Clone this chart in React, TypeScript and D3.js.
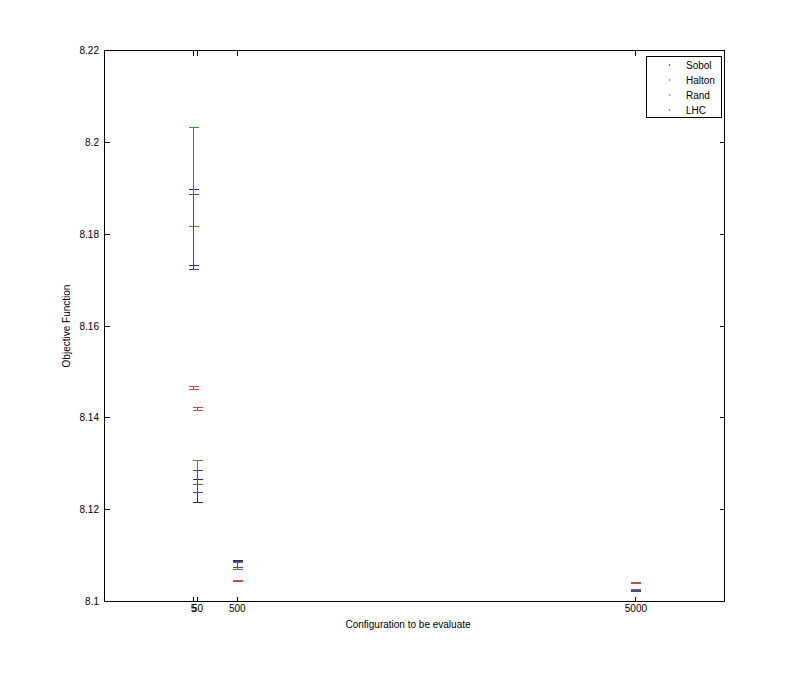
import React from "react";
import * as d3 from "d3";

const configs = [5, 50, 500, 5000];
const seriesNames = ["Sobol", "Halton", "Rand", "LHC"];
const seriesColors = ["#1c2a8c", "#c24a48", "#3f8f2f", "#5e3a96"];
const sobolLow = [8.1732, 8.1215, 8.1073, 8.1022];
const sobolHigh = [8.1898, 8.1265, 8.109, 8.1027];
const haltonLow = [8.1461, 8.1416, 8.1043, 8.104];
const haltonHigh = [8.1468, 8.1422, 8.1045, 8.1042];
const randLow = [8.1817, 8.1254, 8.1069, 8.1023];
const randHigh = [8.2033, 8.1308, 8.1086, 8.1026];
const lhcLow = [8.1723, 8.1237, 8.1075, 8.1021];
const lhcHigh = [8.1887, 8.1286, 8.1088, 8.1025];
const yTicks = [8.1, 8.12, 8.14, 8.16, 8.18, 8.2, 8.22];
const xTicks = [5, 50, 500, 5000];

const lows = [sobolLow, haltonLow, randLow, lhcLow];
const highs = [sobolHigh, haltonHigh, randHigh, lhcHigh];

export default function App() {
  const W = 800, H = 675;
  const left = 104.5, right = 724.5, top = 50.5, bottom = 601.5;
  const x = d3.scaleLinear().domain([-1000, 6000]).range([left, right]);
  const y = d3.scaleLinear().domain([8.1, 8.22]).range([bottom, top]);
  const px = (v: number) => Math.round(v) + 0.5;
  const font = "'Liberation Sans', Arial, sans-serif";
  const fs = 10;
  const tl = 5;
  const cap = 5;
  const fmt = (v: number) => String(+v.toFixed(2));

  return (
    <div style={{ position: "absolute", left: 0, top: 0 }}>
      <svg width={W} height={H} style={{ display: "block", background: "#fff" }}>
        <rect x={0} y={0} width={W} height={H} fill="#fff" />
        {seriesNames.map((s, si) => (
          <g key={s} stroke={seriesColors[si]} strokeWidth={1} fill="none" shapeRendering="crispEdges">
            {configs.map((c, i) => {
              const cx = px(x(c) - 0.5);
              const y1 = px(y(lows[si][i]) - 0.5);
              const y2 = px(y(highs[si][i]) - 0.5);
              return (
                <g key={i}>
                  <line x1={cx} x2={cx} y1={y1} y2={y2} />
                  <line x1={cx - cap} x2={cx + cap} y1={y1} y2={y1} />
                  <line x1={cx - cap} x2={cx + cap} y1={y2} y2={y2} />
                </g>
              );
            })}
          </g>
        ))}
        <rect x={left} y={top} width={right - left} height={bottom - top} fill="none" stroke="#000" strokeWidth={1} shapeRendering="crispEdges" />
        {yTicks.map((t) => (
          <g key={t} shapeRendering="crispEdges">
            <line x1={left} x2={left + tl} y1={px(y(t) - 0.5)} y2={px(y(t) - 0.5)} stroke="#000" />
            <line x1={right - tl} x2={right} y1={px(y(t) - 0.5)} y2={px(y(t) - 0.5)} stroke="#000" />
            <text x={99} y={y(t)} dy="0.35em" textAnchor="end" fontFamily={font} fontSize={fs} fill="#000">
              {fmt(t)}
            </text>
          </g>
        ))}
        {xTicks.map((t) => (
          <g key={t} shapeRendering="crispEdges">
            <line x1={px(x(t) - 0.5)} x2={px(x(t) - 0.5)} y1={bottom} y2={bottom - tl} stroke="#000" />
            <line x1={px(x(t) - 0.5)} x2={px(x(t) - 0.5)} y1={top} y2={top + tl} stroke="#000" />
            <text x={x(t)} y={612} textAnchor="middle" fontFamily={font} fontSize={fs} fill="#000">
              {t}
            </text>
          </g>
        ))}
        <text x={408} y={628} textAnchor="middle" fontFamily={font} fontSize={fs} fill="#000">
          Configuration to be evaluate
        </text>
        <text
          transform={`translate(70, ${(top + bottom) / 2}) rotate(-90)`}
          textAnchor="middle"
          fontFamily={font}
          fontSize={fs}
          fill="#000"
        >
          Objective Function
        </text>
        <rect x={646.5} y={56.5} width={75} height={61} fill="#fff" stroke="#000" strokeWidth={1} shapeRendering="crispEdges" />
        {seriesNames.map((s, si) => (
          <g key={s}>
            <circle cx={669.5} cy={65 + si * 15} r={0.8} fill={seriesColors[si]} />
            <text x={686} y={65 + si * 15} dy="0.35em" fontFamily={font} fontSize={fs} fill="#000">
              {s}
            </text>
          </g>
        ))}
      </svg>
    </div>
  );
}
